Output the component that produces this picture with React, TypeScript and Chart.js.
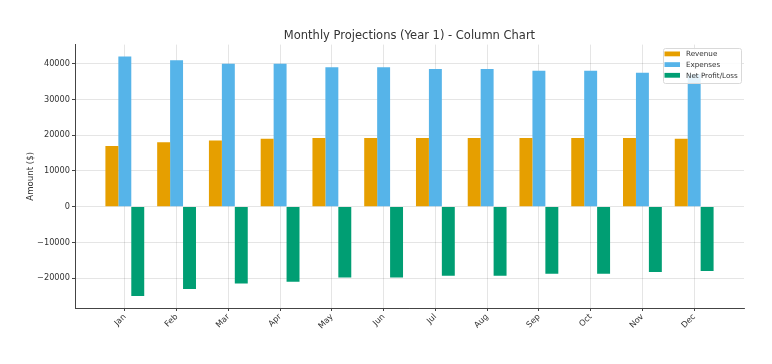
import { useEffect, useRef } from 'react';
import { Chart, registerables } from 'chart.js';

Chart.register(...registerables);

const months = ['Jan', 'Feb', 'Mar', 'Apr', 'May', 'Jun', 'Jul', 'Aug', 'Sep', 'Oct', 'Nov', 'Dec'];
const revenue = [17000, 18000, 18500, 19000, 19200, 19200, 19200, 19200, 19200, 19200, 19200, 19000];
const expenses = [42000, 41000, 40000, 40000, 39000, 39000, 38500, 38500, 38000, 38000, 37500, 37000];
const netProfit = [-25000, -23000, -21500, -21000, -19800, -19800, -19300, -19300, -18800, -18800, -18300, -18000];
const yTicks = [-20000, -10000, 0, 10000, 20000, 30000, 40000];
const seriesNames = ['Revenue', 'Expenses', 'Net Profit/Loss'];
const seriesColors = ['#E69F00', '#56B4E9', '#009E73'];

const FONT = '"DejaVu Sans", "Liberation Sans", sans-serif';

const insideLegend = {
  id: 'insideLegend',
  afterDraw(chart: any) {
    const { ctx, chartArea } = chart;
    const w = 78;
    const h = 35;
    const x = chartArea.right - 3.5 - w;
    const y = chartArea.top + 3.3;
    ctx.save();
    ctx.fillStyle = 'rgba(255,255,255,0.85)';
    ctx.strokeStyle = '#d9d9d9';
    ctx.lineWidth = 1;
    ctx.beginPath();
    ctx.roundRect(Math.round(x) + 0.5, Math.round(y) + 0.5, w, h, 2);
    ctx.fill();
    ctx.stroke();
    ctx.font = `7.2px ${FONT}`;
    ctx.textBaseline = 'middle';
    ctx.textAlign = 'left';
    chart.data.datasets.forEach((ds: any, i: number) => {
      const cy = y + 6 + i * 10.7;
      ctx.fillStyle = ds.backgroundColor;
      ctx.fillRect(x + 2, cy - 2.4, 15.5, 4.8);
      ctx.fillStyle = '#333';
      ctx.fillText(ds.label, x + 23.5, cy + 0.5);
    });
    ctx.restore();
  },
};

const fmt = (v: number) => (v < 0 ? '\u2212' + Math.abs(v) : String(v));

export default function App() {
  const ref = useRef<HTMLCanvasElement | null>(null);

  useEffect(() => {
    if (!ref.current) return;
    const series = [revenue, expenses, netProfit];
    const chart = new Chart(ref.current, {
      type: 'bar',
      data: {
        datasets: series.map((vals, si) => ({
          label: seriesNames[si],
          data: vals.map((v, i) => ({ x: i, y: v })),
          backgroundColor: seriesColors[si],
          borderWidth: 0,
          categoryPercentage: 0.75,
          barPercentage: 1.0,
        })),
      },
      options: {
        animation: false,
        responsive: false,
        layout: { padding: { left: 0, right: 28, top: 0, bottom: 0 } },
        plugins: {
          legend: { display: false },
          tooltip: { enabled: false },
          title: {
            display: true,
            text: 'Monthly Projections (Year 1) - Column Chart',
            color: '#333',
            fullSize: false,
            font: { family: FONT, size: 11.5, weight: 'normal' },
            padding: { top: 29, bottom: 1.8 },
          },
        },
        scales: {
          x: {
            type: 'linear',
            min: -0.9625,
            max: 11.9625,
            offset: false,
            afterFit: (axis: any) => {
              axis.height = 56;
            },
            afterBuildTicks: (axis: any) => {
              axis.ticks = months.map((_, i) => ({ value: i }));
            },
            ticks: {
              callback: (v: any) => months[v as number] ?? '',
              minRotation: 45,
              maxRotation: 45,
              autoSkip: false,
              color: '#333',
              padding: 1,
              font: { family: FONT, size: 8.2 },
            },
            grid: {
              offset: false,
              color: 'rgba(0,0,0,0.13)',
              lineWidth: 0.8,
              borderDash: [2, 2],
              drawTicks: true,
              tickLength: 3,
              tickColor: '#444',
              tickWidth: 1,
              tickBorderDash: [],
            },
            border: { display: true, color: '#444', width: 1 },
          },
          y: {
            type: 'linear',
            min: -28350,
            max: 45350,
            afterFit: (axis: any) => {
              axis.width = 75;
            },
            afterBuildTicks: (axis: any) => {
              axis.ticks = yTicks.map((v) => ({ value: v }));
            },
            ticks: {
              callback: (v: any) => fmt(v as number),
              color: '#333',
              padding: 2,
              font: { family: FONT, size: 8.2 },
            },
            title: {
              display: true,
              text: 'Amount ($)',
              color: '#333',
              font: { family: FONT, size: 8.6 },
              padding: { top: 26, bottom: 0 },
            },
            grid: {
              color: 'rgba(0,0,0,0.13)',
              lineWidth: 0.8,
              borderDash: [2, 2],
              drawTicks: true,
              tickLength: 3,
              tickColor: '#444',
              tickWidth: 1,
              tickBorderDash: [],
            },
            border: { display: true, color: '#444', width: 1 },
          },
        },
      },
      plugins: [insideLegend],
    } as any);
    return () => chart.destroy();
  }, []);

  return (
    <div style={{ position: 'fixed', left: 0, top: 0, width: 772, height: 364, background: '#fff' }}>
      <canvas ref={ref} width={772} height={364} style={{ width: 772, height: 364, display: 'block' }} />
    </div>
  );
}
